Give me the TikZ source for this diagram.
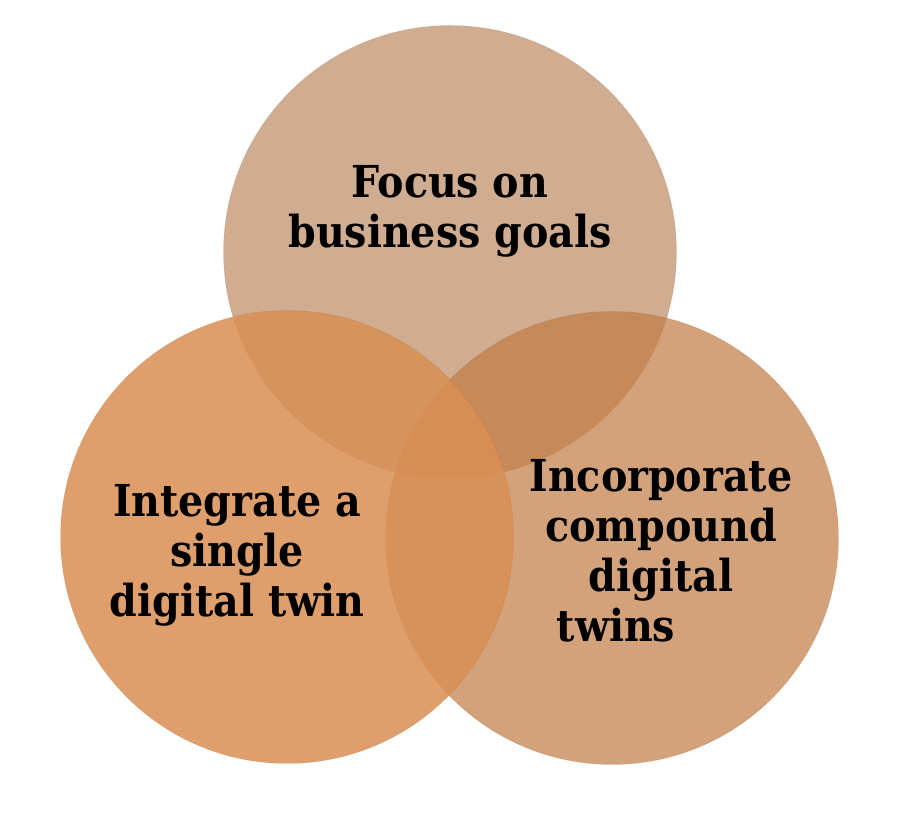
\documentclass[tikz,border=0pt]{standalone}
\usepackage{fontspec}
\usepackage{tikz}
\usetikzlibrary{positioning}
\newfontfamily\vennfont{DejaVu Serif Condensed}
\definecolor{goaltan}{RGB}{208,172,144}
\definecolor{compoundtan}{RGB}{195,126,70}
\definecolor{singleorange}{RGB}{217,143,84}
\tikzset {
    x=1pt, y=1pt,
    venn/.style={circle, minimum size=453pt, inner sep=0pt,
        draw opacity=0.15, line width=0.8pt},
    label text/.style={font=\vennfont\fontsize{44}{50}\selectfont\bfseries,
        align=center, inner sep=0pt}
}
\begin{document}
\begin{tikzpicture}
    \useasboundingbox (0,0) rectangle (908,826);

    % the three circles
    \node[venn, fill=goaltan, draw=goaltan!70!black] (goals) at (450,574) {};
    \node[venn, fill=compoundtan, fill opacity=0.72, draw=compoundtan!70!black] (compound) at (612,288) {};
    \node[venn, fill=singleorange, fill opacity=0.86, draw=singleorange!70!black] (single) at (287,289) {};

    % texts
    \node[label text] (goalstext) at ([yshift=41pt]goals.center)
        {Focus on\\business goals};
    \node[label text] (singletext) at ([xshift=-50pt,yshift=-18pt]single.center)
        {Integrate a\\single\\digital twin};
    \node[label text] (compoundtext) at ([xshift=49pt,yshift=-13pt]compound.center)
        {Incorporate\\compound\\digital\\\hspace*{-90pt}twins};
\end{tikzpicture}
\end{document}
